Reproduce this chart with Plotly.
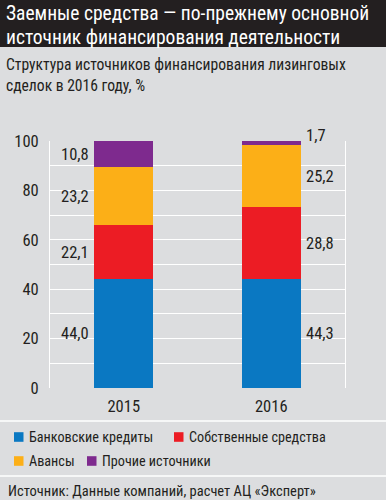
import plotly.graph_objects as go

years = ["2015", "2016"]
series_names = ["Банковские кредиты", "Собственные средства", "Авансы", "Прочие источники"]
bank = [44.0, 44.3]
own = [22.1, 28.8]
advances = [23.2, 25.2]
other = [10.8, 1.7]
y_ticks = [0, 20, 40, 60, 80, 100]

colors = ["#0a78c2", "#ec1c24", "#fcaf17", "#7e2a8e"]
values = [bank, own, advances, other]

W, H = 386, 500
L, R, T, B = 50, 345, 141, 388  # plot area pixels
FONT = "Roboto Condensed, DejaVu Sans Condensed, sans-serif"
TXT = "#231f20"
BG = "#dcdddf"


def px(x):
    return (x - L) / (R - L)


def py(y):
    return (B - y) / (B - T)


fig = go.Figure()
for name, vals, col in zip(series_names, values, colors):
    fig.add_trace(go.Bar(x=years, y=vals, name=name, marker=dict(color=col, line=dict(width=0)),
                         width=0.4, showlegend=False, hoverinfo="skip"))

annotations = []
# data labels
for i, yr in enumerate(years):
    cum = 0
    for vals in values:
        v = vals[i]
        mid = cum + v / 2
        cum += v
        label = f"{v:.1f}".replace(".", ",")
        if i == 0:
            annotations.append(dict(x=i, y=mid, xref="x", yref="y", text=label, showarrow=False,
                                    xanchor="right", xshift=-33, yanchor="middle",
                                    font=dict(family=FONT, size=16.5, color=TXT)))
        else:
            annotations.append(dict(x=i, y=mid, xref="x", yref="y", text=label, showarrow=False,
                                    xanchor="left", xshift=33, yanchor="middle",
                                    yshift=8 if v < 5 else 0,
                                    font=dict(family=FONT, size=16.5, color=TXT)))


def text_at(x, y, s, size, color=TXT):
    annotations.append(dict(x=px(x), y=py(y), xref="paper", yref="paper", showarrow=False,
                            xanchor="left", yanchor="middle", align="left", text=s,
                            borderpad=0, font=dict(family=FONT, size=size, color=color)))


# title and subtitle
text_at(5, 14, "Заемные средства — по-прежнему основной", 19.5, "white")
text_at(5, 37, "источник финансирования деятельности", 19.5, "white")
text_at(5, 65, "Структура источников финансирования лизинговых", 15.6)
text_at(5, 86, "сделок в 2016 году, %", 15.6)

# legend (manual)
legend_pos = [(14, 437), (174, 437), (14, 461), (87, 461)]
shapes = []
for (lx, ly), name, col in zip(legend_pos, series_names, colors):
    shapes.append(dict(type="rect", xref="paper", yref="paper", x0=px(lx), x1=px(lx + 9.5),
                       y0=py(ly + 4.8), y1=py(ly - 4.8), fillcolor=col, line=dict(width=0)))
    text_at(lx + 14, ly, name, 14.2)

text_at(7, 491, "Источник: Данные компаний, расчет АЦ «Эксперт»", 14.5)

# title band
shapes.insert(0, dict(type="rect", xref="paper", yref="paper", x0=px(0), x1=px(W),
                      y0=py(47), y1=py(0), fillcolor="#231f20", line=dict(width=0), layer="below"))
# separators
for sy in (421, 476):
    shapes.append(dict(type="line", xref="paper", yref="paper", x0=px(0), x1=px(W),
                       y0=py(sy), y1=py(sy), line=dict(color="white", width=1.5)))

fig.update_layout(
    width=W, height=H,
    margin=dict(l=L, r=W - R, t=T, b=H - B, pad=0),
    barmode="stack",
    paper_bgcolor=BG, plot_bgcolor=BG,
    showlegend=False,
    annotations=annotations,
    shapes=shapes,
    xaxis=dict(type="category", range=[-0.5, 1.5], showgrid=False, zeroline=False, showline=False,
               ticks="", tickfont=dict(family=FONT, size=16.5, color=TXT), fixedrange=True,
               ticklabelstandoff=6),
    yaxis=dict(range=[0, 100], tickvals=y_ticks, ticktext=[str(t) for t in y_ticks],
               showgrid=True, gridcolor="white", gridwidth=1.2,
               zeroline=False, showline=True, mirror=True, linecolor="white", linewidth=1,
               ticks="", ticklabelstandoff=7,
               tickfont=dict(family=FONT, size=16.5, color=TXT), fixedrange=True,
               minor=dict(tickvals=[10, 30, 50, 70, 90], showgrid=True, gridcolor="white", gridwidth=1.2)),
)

fig.write_html("out.html", config={"displayModeBar": False},
               post_script="document.body.style.margin='0';document.body.style.overflow='hidden';")
